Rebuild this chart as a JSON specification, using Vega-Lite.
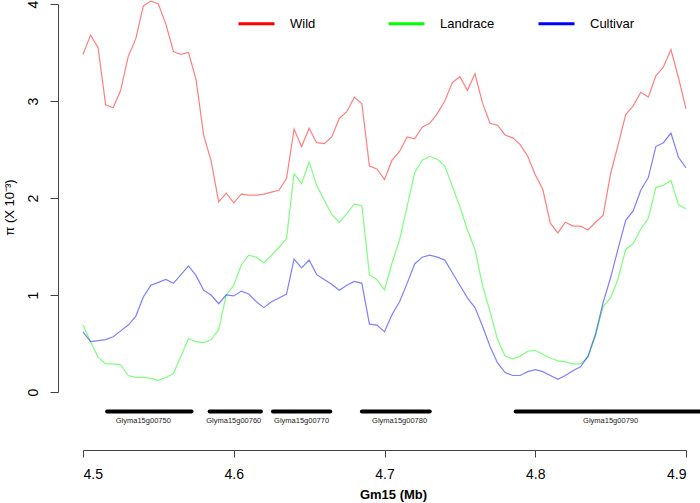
{
  "$schema": "https://vega.github.io/schema/vega-lite/v6.json",
  "width": 603,
  "height": 388,
  "autosize": "none",
  "padding": {"left": 83, "top": 4, "right": 14, "bottom": 111},
  "background": "white",
  "config": {
    "view": {"stroke": null},
    "font": "Liberation Sans",
    "axis": {"grid": false, "domainColor": "#444", "tickColor": "#444", "labelColor": "#000", "titleColor": "#000", "labelFont": "Liberation Sans", "titleFont": "Liberation Sans"}
  },
  "datasets": {
    "pi": [
      {"pos": 4.500, "Wild": 3.48, "Landrace": 0.69, "Cultivar": 0.62},
      {"pos": 4.505, "Wild": 3.68, "Landrace": 0.52, "Cultivar": 0.52},
      {"pos": 4.510, "Wild": 3.55, "Landrace": 0.36, "Cultivar": 0.53},
      {"pos": 4.515, "Wild": 2.96, "Landrace": 0.29, "Cultivar": 0.54},
      {"pos": 4.520, "Wild": 2.93, "Landrace": 0.29, "Cultivar": 0.57},
      {"pos": 4.525, "Wild": 3.11, "Landrace": 0.28, "Cultivar": 0.63},
      {"pos": 4.530, "Wild": 3.46, "Landrace": 0.17, "Cultivar": 0.69},
      {"pos": 4.535, "Wild": 3.64, "Landrace": 0.15, "Cultivar": 0.78},
      {"pos": 4.540, "Wild": 3.98, "Landrace": 0.15, "Cultivar": 0.98},
      {"pos": 4.545, "Wild": 4.03, "Landrace": 0.14, "Cultivar": 1.10},
      {"pos": 4.550, "Wild": 4.00, "Landrace": 0.12, "Cultivar": 1.13},
      {"pos": 4.555, "Wild": 3.79, "Landrace": 0.15, "Cultivar": 1.16},
      {"pos": 4.560, "Wild": 3.51, "Landrace": 0.19, "Cultivar": 1.12},
      {"pos": 4.565, "Wild": 3.48, "Landrace": 0.37, "Cultivar": 1.21},
      {"pos": 4.570, "Wild": 3.50, "Landrace": 0.55, "Cultivar": 1.30},
      {"pos": 4.575, "Wild": 3.22, "Landrace": 0.52, "Cultivar": 1.20},
      {"pos": 4.580, "Wild": 2.65, "Landrace": 0.51, "Cultivar": 1.05},
      {"pos": 4.585, "Wild": 2.38, "Landrace": 0.54, "Cultivar": 1.00},
      {"pos": 4.590, "Wild": 1.96, "Landrace": 0.64, "Cultivar": 0.91},
      {"pos": 4.595, "Wild": 2.05, "Landrace": 1.00, "Cultivar": 1.00},
      {"pos": 4.600, "Wild": 1.95, "Landrace": 1.10, "Cultivar": 0.99},
      {"pos": 4.605, "Wild": 2.04, "Landrace": 1.31, "Cultivar": 1.04},
      {"pos": 4.610, "Wild": 2.03, "Landrace": 1.41, "Cultivar": 1.01},
      {"pos": 4.615, "Wild": 2.03, "Landrace": 1.39, "Cultivar": 0.93},
      {"pos": 4.620, "Wild": 2.04, "Landrace": 1.33, "Cultivar": 0.87},
      {"pos": 4.625, "Wild": 2.06, "Landrace": 1.41, "Cultivar": 0.93},
      {"pos": 4.630, "Wild": 2.08, "Landrace": 1.49, "Cultivar": 0.97},
      {"pos": 4.635, "Wild": 2.20, "Landrace": 1.58, "Cultivar": 1.01},
      {"pos": 4.640, "Wild": 2.71, "Landrace": 2.25, "Cultivar": 1.37},
      {"pos": 4.645, "Wild": 2.53, "Landrace": 2.15, "Cultivar": 1.28},
      {"pos": 4.650, "Wild": 2.72, "Landrace": 2.37, "Cultivar": 1.36},
      {"pos": 4.655, "Wild": 2.57, "Landrace": 2.13, "Cultivar": 1.21},
      {"pos": 4.660, "Wild": 2.56, "Landrace": 1.98, "Cultivar": 1.16},
      {"pos": 4.665, "Wild": 2.63, "Landrace": 1.83, "Cultivar": 1.11},
      {"pos": 4.670, "Wild": 2.82, "Landrace": 1.75, "Cultivar": 1.05},
      {"pos": 4.675, "Wild": 2.89, "Landrace": 1.84, "Cultivar": 1.10},
      {"pos": 4.680, "Wild": 3.04, "Landrace": 1.94, "Cultivar": 1.14},
      {"pos": 4.685, "Wild": 2.97, "Landrace": 1.92, "Cultivar": 1.12},
      {"pos": 4.690, "Wild": 2.33, "Landrace": 1.21, "Cultivar": 0.70},
      {"pos": 4.695, "Wild": 2.30, "Landrace": 1.16, "Cultivar": 0.69},
      {"pos": 4.700, "Wild": 2.19, "Landrace": 1.05, "Cultivar": 0.62},
      {"pos": 4.705, "Wild": 2.39, "Landrace": 1.33, "Cultivar": 0.80},
      {"pos": 4.710, "Wild": 2.48, "Landrace": 1.57, "Cultivar": 0.93},
      {"pos": 4.715, "Wild": 2.63, "Landrace": 1.91, "Cultivar": 1.12},
      {"pos": 4.720, "Wild": 2.61, "Landrace": 2.26, "Cultivar": 1.32},
      {"pos": 4.725, "Wild": 2.73, "Landrace": 2.39, "Cultivar": 1.39},
      {"pos": 4.730, "Wild": 2.77, "Landrace": 2.43, "Cultivar": 1.41},
      {"pos": 4.735, "Wild": 2.87, "Landrace": 2.40, "Cultivar": 1.39},
      {"pos": 4.740, "Wild": 3.00, "Landrace": 2.33, "Cultivar": 1.36},
      {"pos": 4.745, "Wild": 3.19, "Landrace": 2.12, "Cultivar": 1.23},
      {"pos": 4.750, "Wild": 3.25, "Landrace": 1.91, "Cultivar": 1.10},
      {"pos": 4.755, "Wild": 3.11, "Landrace": 1.67, "Cultivar": 0.97},
      {"pos": 4.760, "Wild": 3.28, "Landrace": 1.47, "Cultivar": 0.87},
      {"pos": 4.765, "Wild": 2.98, "Landrace": 1.10, "Cultivar": 0.68},
      {"pos": 4.770, "Wild": 2.77, "Landrace": 0.83, "Cultivar": 0.47},
      {"pos": 4.775, "Wild": 2.75, "Landrace": 0.54, "Cultivar": 0.30},
      {"pos": 4.780, "Wild": 2.65, "Landrace": 0.37, "Cultivar": 0.20},
      {"pos": 4.785, "Wild": 2.62, "Landrace": 0.34, "Cultivar": 0.17},
      {"pos": 4.790, "Wild": 2.55, "Landrace": 0.37, "Cultivar": 0.17},
      {"pos": 4.795, "Wild": 2.43, "Landrace": 0.42, "Cultivar": 0.21},
      {"pos": 4.800, "Wild": 2.24, "Landrace": 0.43, "Cultivar": 0.23},
      {"pos": 4.805, "Wild": 2.09, "Landrace": 0.39, "Cultivar": 0.21},
      {"pos": 4.810, "Wild": 1.74, "Landrace": 0.35, "Cultivar": 0.17},
      {"pos": 4.815, "Wild": 1.64, "Landrace": 0.32, "Cultivar": 0.13},
      {"pos": 4.820, "Wild": 1.75, "Landrace": 0.31, "Cultivar": 0.17},
      {"pos": 4.825, "Wild": 1.71, "Landrace": 0.29, "Cultivar": 0.22},
      {"pos": 4.830, "Wild": 1.71, "Landrace": 0.29, "Cultivar": 0.26},
      {"pos": 4.835, "Wild": 1.67, "Landrace": 0.36, "Cultivar": 0.37},
      {"pos": 4.840, "Wild": 1.75, "Landrace": 0.58, "Cultivar": 0.60},
      {"pos": 4.845, "Wild": 1.82, "Landrace": 0.88, "Cultivar": 0.92},
      {"pos": 4.850, "Wild": 2.25, "Landrace": 0.97, "Cultivar": 1.18},
      {"pos": 4.855, "Wild": 2.55, "Landrace": 1.17, "Cultivar": 1.48},
      {"pos": 4.860, "Wild": 2.86, "Landrace": 1.47, "Cultivar": 1.77},
      {"pos": 4.865, "Wild": 2.95, "Landrace": 1.53, "Cultivar": 1.87},
      {"pos": 4.870, "Wild": 3.09, "Landrace": 1.68, "Cultivar": 2.08},
      {"pos": 4.875, "Wild": 3.04, "Landrace": 1.79, "Cultivar": 2.21},
      {"pos": 4.880, "Wild": 3.26, "Landrace": 2.11, "Cultivar": 2.53},
      {"pos": 4.885, "Wild": 3.35, "Landrace": 2.13, "Cultivar": 2.57},
      {"pos": 4.890, "Wild": 3.53, "Landrace": 2.18, "Cultivar": 2.67},
      {"pos": 4.895, "Wild": 3.24, "Landrace": 1.93, "Cultivar": 2.42},
      {"pos": 4.900, "Wild": 2.92, "Landrace": 1.89, "Cultivar": 2.31}
    ],
    "genes": [
      {"gene": "Glyma15g00750", "start": 4.516, "end": 4.572, "mid": 4.540},
      {"gene": "Glyma15g00760", "start": 4.584, "end": 4.618, "mid": 4.600},
      {"gene": "Glyma15g00770", "start": 4.626, "end": 4.664, "mid": 4.645},
      {"gene": "Glyma15g00780", "start": 4.685, "end": 4.730, "mid": 4.710},
      {"gene": "Glyma15g00790", "start": 4.787, "end": 4.920, "mid": 4.850}
    ]
  },
  "layer": [
    {
      "data": {"name": "pi"},
      "transform": [{"fold": ["Wild", "Landrace", "Cultivar"], "as": ["group", "value"]}],
      "mark": {"type": "line", "strokeWidth": 1.2, "opacity": 0.5},
      "encoding": {
        "x": {"field": "pos", "type": "quantitative", "scale": {"domain": [4.5, 4.9], "nice": false, "zero": false},
          "axis": {"values": [4.5, 4.6, 4.7, 4.8, 4.9], "format": ".1f", "offset": 58, "tickSize": 7, "labelFontSize": 14, "labelPadding": 10,
            "title": "Gm15 (Mb)", "titleFontSize": 13, "titleFontWeight": "bold", "titleX": 310, "titlePadding": 7}},
        "y": {"field": "value", "type": "quantitative", "scale": {"domain": [0, 4], "nice": false, "zero": false},
          "axis": {"values": [0, 1, 2, 3, 4], "format": "d", "offset": 25, "tickSize": 8, "labelFontSize": 14, "labelAngle": -90, "labelAlign": "center", "labelBaseline": "bottom", "labelPadding": 10,
            "title": "π (X 10⁻³)", "titleFontSize": 13, "titleFontWeight": "normal", "titleY": 203, "titlePadding": 10}},
        "color": {"field": "group", "type": "nominal",
          "scale": {"domain": ["Wild", "Landrace", "Cultivar"], "range": ["#ff0000", "#00ff00", "#0000ff"]},
          "legend": {"title": null, "orient": "none", "legendX": 154, "legendY": 0, "direction": "horizontal", "columns": 3, "gridAlign": "all",
            "symbolType": "stroke", "symbolSize": 1296, "symbolStrokeWidth": 3, "symbolOpacity": 1, "labelOffset": 14, "labelFontSize": 13, "labelColor": "#000", "columnPadding": 37, "padding": 0}},
        "order": {"field": "pos", "type": "quantitative"}
      }
    },
    {
      "data": {"name": "genes"},
      "mark": {"type": "rule", "strokeWidth": 4, "color": "#000", "strokeCap": "round"},
      "encoding": {
        "x": {"field": "start", "type": "quantitative"},
        "x2": {"field": "end"},
        "y": {"datum": -0.2}
      }
    },
    {
      "data": {"name": "genes"},
      "mark": {"type": "text", "fontSize": 7.5, "color": "#222"},
      "encoding": {
        "x": {"field": "mid", "type": "quantitative"},
        "y": {"datum": -0.3},
        "text": {"field": "gene"}
      }
    }
  ]
}
